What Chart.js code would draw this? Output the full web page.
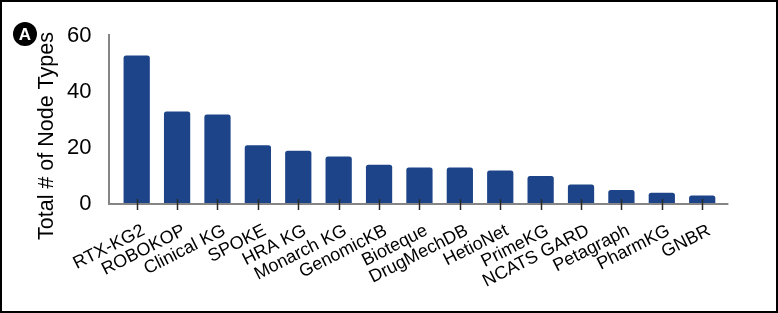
<!DOCTYPE html>
<html>
<head>
<meta charset="utf-8">
<script src="https://cdn.jsdelivr.net/npm/chart.js@4.4.0/dist/chart.umd.min.js"></script>
<style>
  html, body { margin: 0; padding: 0; background: #fff; }
  canvas { display: block; }
</style>
</head>
<body>
<canvas id="nodeTypes" width="778" height="313"></canvas>
<script>
'use strict';

/* ---- data ---- */
const kgNames = ['RTX-KG2', 'ROBOKOP', 'Clinical KG', 'SPOKE', 'HRA KG', 'Monarch KG', 'GenomicKB',
    'Bioteque', 'DrugMechDB', 'HetioNet', 'PrimeKG', 'NCATS GARD', 'Petagraph', 'PharmKG', 'GNBR'];
const nodeTypeCounts = [53, 33, 32, 21, 19, 17, 14, 13, 13, 12, 10, 7, 5, 4, 3];
const yTicks = [0, 20, 40, 60];
const yTitle = 'Total # of Node Types';
const panelLetter = 'A';

const FONT = '"Liberation Sans", Arial, Helvetica, sans-serif';
const BAR_BLUE = '#1d4489';

/* axis lines, tick marks, title, panel badge and frame */
const decorations = {
    id: 'decorations',
    afterDraw(chart) {
        const { ctx, chartArea, scales } = chart;
        const x0 = chartArea.left - 7.5;
        const x1 = chartArea.right + 6;
        const zeroY = scales.y.getPixelForValue(0);
        const topY = scales.y.getPixelForValue(60) - 2;

        ctx.save();
        ctx.strokeStyle = '#858585';
        ctx.lineWidth = 2;
        ctx.beginPath();
        ctx.moveTo(x0, topY);
        ctx.lineTo(x0, zeroY);
        ctx.lineTo(x1, zeroY);
        ctx.stroke();

        // small dark tick marks centred on each bar
        ctx.strokeStyle = '#2a2a2a';
        ctx.lineWidth = 1.5;
        kgNames.forEach((_, i) => {
            const x = Math.round(scales.x.getPixelForValue(i)) + 0.5;
            ctx.beginPath();
            ctx.moveTo(x, zeroY - 5);
            ctx.lineTo(x, zeroY + 6);
            ctx.stroke();
        });

        // y axis title
        ctx.fillStyle = '#000';
        ctx.font = '21.5px ' + FONT;
        ctx.textAlign = 'center';
        ctx.textBaseline = 'middle';
        ctx.translate(47, 136);
        ctx.rotate(-Math.PI / 2);
        ctx.fillText(yTitle, 0, 0);
        ctx.setTransform(1, 0, 0, 1, 0, 0);

        // panel badge
        ctx.fillStyle = '#000';
        ctx.beginPath();
        ctx.arc(25, 34, 12, 0, Math.PI * 2);
        ctx.fill();
        ctx.fillStyle = '#fff';
        ctx.font = 'bold 17px ' + FONT;
        ctx.fillText(panelLetter, 25, 35);

        // frame
        ctx.strokeStyle = '#000';
        ctx.lineWidth = 2;
        ctx.strokeRect(1, 1, 776, 311);
        ctx.restore();
    },
};

const ctx = document.getElementById('nodeTypes').getContext('2d');
new Chart(ctx, {
    type: 'bar',
    data: {
        labels: kgNames,
        datasets: [{
            data: nodeTypeCounts,
            backgroundColor: BAR_BLUE,
            borderWidth: 0,
            borderRadius: 2.5,
            borderSkipped: 'bottom',
            barPercentage: 0.65,
            categoryPercentage: 1,
        }],
    },
    options: {
        responsive: false,
        animation: false,
        layout: { padding: { top: 36, right: 55.6, bottom: 0, left: 0 } },
        plugins: {
            legend: { display: false },
            tooltip: { enabled: false },
        },
        scales: {
            x: {
                grid: { display: false },
                border: { display: false },
                ticks: {
                    color: '#000',
                    font: { family: FONT, size: 18 },
                    autoSkip: false,
                    maxRotation: 27,
                    minRotation: 27,
                    labelOffset: 7,
                    padding: 8,
                },
                afterFit: s => { s.height = 109; },
            },
            y: {
                min: 0,
                max: 60,
                grid: { display: false },
                border: { display: false },
                afterBuildTicks: s => { s.ticks = yTicks.map(v => ({ value: v })); },
                ticks: {
                    color: '#000',
                    font: { family: FONT, size: 22 },
                    padding: 17,
                },
                afterFit: s => { s.width = 116.5; },
            },
        },
    },
    plugins: [decorations],
});
</script>
</body>
</html>
